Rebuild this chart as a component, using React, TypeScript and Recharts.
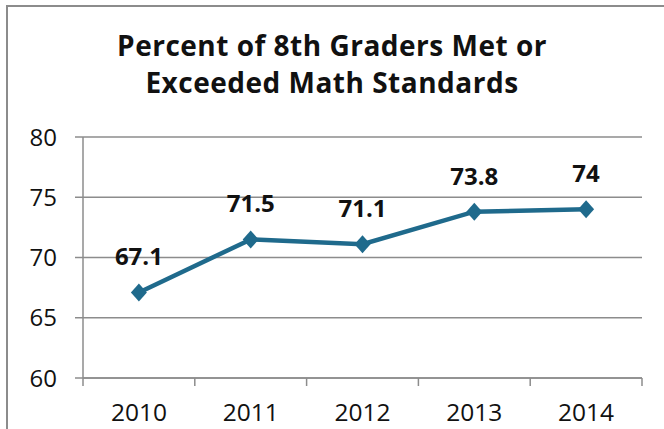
import React from 'react';
import { CartesianGrid, LabelList, Line, LineChart, XAxis, YAxis } from 'recharts';

const years = ['2010', '2011', '2012', '2013', '2014'];
const percentMet = [67.1, 71.5, 71.1, 73.8, 74];
const yTicks = [60, 65, 70, 75, 80];

const data = years.map((year, i) => ({ year, value: percentMet[i] }));

const FONT = '"Open Sans", Lato, sans-serif';
const LINE_COLOR = '#1F6A8C';
const AXIS_COLOR = '#8C8C8C';

const WIDTH = 664;
const HEIGHT = 429;
const X_AXIS_HEIGHT = 51;
const MARGIN = { top: 137, right: 22, bottom: 0, left: 0 };
const Y_AXIS_WIDTH = 83;
const BAND = (WIDTH - MARGIN.right - Y_AXIS_WIDTH) / years.length;

const XTick = (props: any) => {
  const { x, y, payload, index } = props;
  const left = x - BAND / 2;
  const right = x + BAND / 2;
  return (
    <g>
      <line x1={left} x2={left} y1={y} y2={y + 8} stroke={AXIS_COLOR} strokeWidth={1.5} />
      {index === years.length - 1 && (
        <line x1={right} x2={right} y1={y} y2={y + 8} stroke={AXIS_COLOR} strokeWidth={1.5} />
      )}
      <text x={x} y={y + 43} textAnchor="middle" fontSize={24.5} fontFamily={FONT} fill="#111">
        {payload.value}
      </text>
    </g>
  );
};

const Diamond = (props: any) => {
  const { cx, cy } = props;
  if (cx == null || cy == null) return null;
  return (
    <polygon
      points={`${cx},${cy - 9} ${cx + 8},${cy} ${cx},${cy + 9} ${cx - 8},${cy}`}
      fill={LINE_COLOR}
    />
  );
};

const ValueLabel = (props: any) => {
  const { x, y, value } = props;
  return (
    <text x={x} y={y - 27} textAnchor="middle" fontSize={24} fontWeight="bold" fontFamily={FONT} fill="#111">
      {value}
    </text>
  );
};

export default function App() {
  return (
    <div style={{ position: 'fixed', left: 0, top: 0, width: WIDTH, height: HEIGHT, overflow: 'hidden', background: '#fff' }}>
      <div
        style={{
          position: 'absolute',
          left: 6,
          top: 5,
          width: 720,
          height: 480,
          border: '2px solid #8C8C8C',
          boxSizing: 'border-box',
        }}
      />
      <div
        style={{
          position: 'absolute',
          left: 0,
          top: 27,
          width: 664,
          textAlign: 'center',
          fontFamily: FONT,
          fontWeight: 'bold',
          fontSize: 28,
          letterSpacing: '0.5px',
          lineHeight: '37px',
          color: '#111',
        }}
      >
        Percent of 8th Graders Met or
        <br />
        Exceeded Math Standards
      </div>
      <div style={{ position: 'absolute', left: 0, top: 0 }}>
        <LineChart width={WIDTH} height={HEIGHT} data={data} margin={MARGIN}>
          <CartesianGrid vertical={false} stroke={AXIS_COLOR} strokeWidth={1.5} />
          <XAxis
            dataKey="year"
            height={X_AXIS_HEIGHT}
            padding={{ left: BAND / 2, right: BAND / 2 }}
            stroke={AXIS_COLOR}
            strokeWidth={1.5}
            tickLine={false}
            tickSize={0}
            tickMargin={0}
            tick={<XTick />}
            interval={0}
          />
          <YAxis
            domain={[60, 80]}
            ticks={yTicks}
            width={Y_AXIS_WIDTH}
            stroke={AXIS_COLOR}
            strokeWidth={1.5}
            tickSize={8}
            tickMargin={18}
            tick={{ fontSize: 24, fontFamily: FONT, fill: '#111' }}
            interval={0}
          />
          <Line
            type="linear"
            dataKey="value"
            stroke={LINE_COLOR}
            strokeWidth={4.5}
            dot={<Diamond />}
            activeDot={false}
            isAnimationActive={false}
          >
            <LabelList dataKey="value" content={<ValueLabel />} />
          </Line>
        </LineChart>
      </div>
    </div>
  );
}
